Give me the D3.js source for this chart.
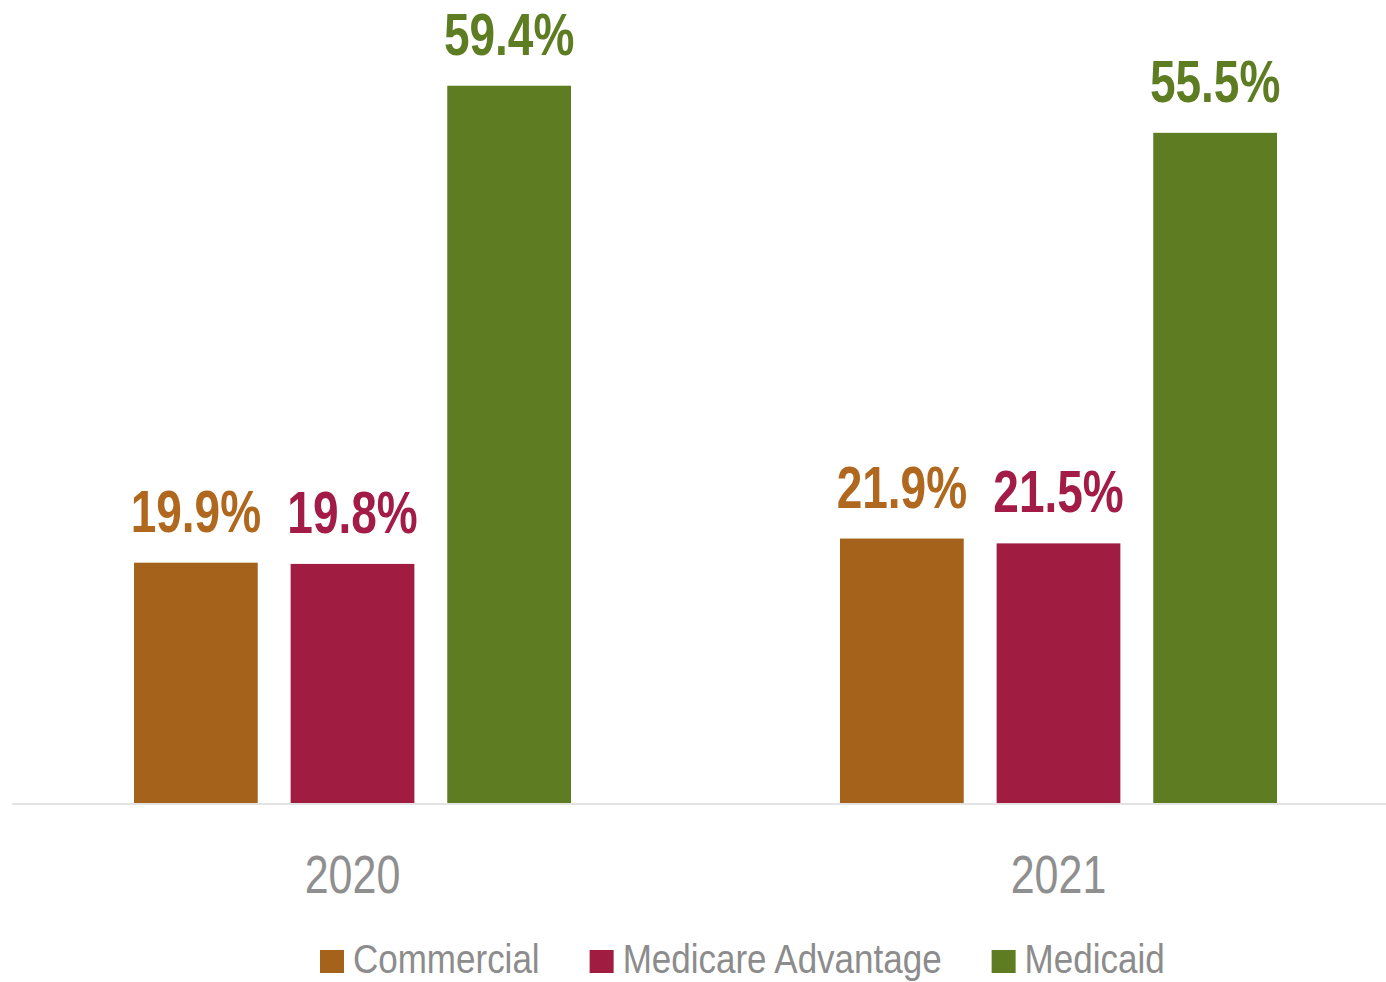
<!DOCTYPE html>
<html>
<head>
<meta charset="utf-8">
<script src="https://cdn.jsdelivr.net/npm/d3@7"></script>
<style>
  body { margin: 0; background: #fff; }
  svg { display: block; font-family: "Liberation Sans", Arial, sans-serif; }
</style>
</head>
<body>
<div id="chart"></div>
<script>
// Data
const years = ['2020', '2021']
const seriesNames = ['Commercial', 'Medicare Advantage', 'Medicaid']
const commercial = [19.9, 21.9]
const medicareAdvantage = [19.8, 21.5]
const medicaid = [59.4, 55.5]

const barColors = ['#A5621A', '#A01C40', '#5E7D23']
const labelColors = ['#B0681E', '#A31C48', '#5E7D23']

function draw() {
  const dimensions = {
    width: 1386,
    height: 982,
    baseline: 803,
  }

  const dataset = years.map((year, i) => ({
    year,
    values: [commercial[i], medicareAdvantage[i], medicaid[i]],
  }))

  const svg = d3.select('#chart')
    .append('svg')
    .attr('width', dimensions.width)
    .attr('height', dimensions.height)

  // Scales
  const x0 = d3.scaleBand()
    .domain(years)
    .range([134, 1277])
    .paddingInner(0.381)
    .paddingOuter(0)

  const x1 = d3.scaleBand()
    .domain(seriesNames)
    .range([0, x0.bandwidth()])
    .paddingInner(0.21)
    .paddingOuter(0)

  const yScale = d3.scaleLinear()
    .domain([0, 66.5])
    .range([dimensions.baseline, 0])

  const colorScale = d3.scaleOrdinal()
    .domain(seriesNames)
    .range(barColors)

  const labelScale = d3.scaleOrdinal()
    .domain(seriesNames)
    .range(labelColors)

  // Axis line
  svg.append('line')
    .attr('x1', 12)
    .attr('x2', dimensions.width)
    .attr('y1', dimensions.baseline + 1)
    .attr('y2', dimensions.baseline + 1)
    .attr('stroke', '#e3e3e3')
    .attr('stroke-width', 2)

  // Bars
  const groups = svg.append('g')
    .selectAll('g')
    .data(dataset)
    .join('g')
    .attr('transform', d => `translate(${x0(d.year)}, 0)`)

  const cells = groups.selectAll('g')
    .data(d => d.values.map((v, i) => ({ key: seriesNames[i], value: v })))
    .join('g')

  cells.append('rect')
    .attr('x', d => x1(d.key))
    .attr('y', d => yScale(d.value))
    .attr('width', x1.bandwidth())
    .attr('height', d => yScale(0) - yScale(d.value))
    .attr('fill', d => colorScale(d.key))

  cells.append('text')
    .attr('transform', d =>
      `translate(${x1(d.key) + x1.bandwidth() / 2}, ${yScale(d.value) - 31}) scale(1, 1.27)`)
    .attr('text-anchor', 'middle')
    .attr('font-size', 46)
    .attr('font-weight', 'bold')
    .attr('fill', d => labelScale(d.key))
    .text(d => d.value.toFixed(1) + '%')

  // Year labels
  svg.append('g')
    .selectAll('text')
    .data(years)
    .join('text')
    .attr('transform', d =>
      `translate(${x0(d) + x0.bandwidth() / 2}, 893) scale(1, 1.24)`)
    .attr('text-anchor', 'middle')
    .attr('font-size', 43)
    .attr('fill', '#8f8f8f')
    .text(d => d)

  // Legend
  const legend = svg.append('g')
  let cursor = 320
  seriesNames.forEach((name) => {
    legend.append('rect')
      .attr('x', cursor)
      .attr('y', 950)
      .attr('width', 24)
      .attr('height', 23)
      .attr('fill', colorScale(name))
    const t = legend.append('text')
      .attr('transform', `translate(${cursor + 33}, 973) scale(1, 1.17)`)
      .attr('font-size', 35)
      .attr('fill', '#8c8c8c')
      .text(name)
    cursor += 33 + t.node().getComputedTextLength() + 50
  })
}

draw()
</script>
</body>
</html>
